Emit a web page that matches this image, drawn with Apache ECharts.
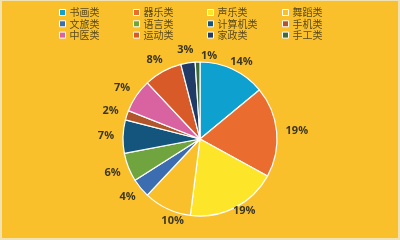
<!DOCTYPE html>
<html><head><meta charset="utf-8">
<script src="https://cdn.jsdelivr.net/npm/echarts@6/dist/echarts.min.js"></script>
<style>
html,body{margin:0;padding:0;background:#f1e2b4;}
#c{position:absolute;left:2px;top:1px;width:396px;height:237px;}
</style></head>
<body><div id="c"></div>
<script>
const categories = ['书画类','器乐类','声乐类','舞蹈类','文旅类','语言类','计算机类','手机类','中医类','运动类','家政类','手工类'];
const values = [14,19,19,10,4,6,7,2,7,8,3,1];
const colors = ['#0ea0cf','#ea6d2f','#fde52a','#f9c02c','#3c6db0','#6fa43f','#13557c','#b2552b','#d962a0','#d95a29','#1f3b66','#3e6b36'];

// small manual label nudges (as in the original chart's label placement)
const labelNudge = {'书画类': [0, 5], '声乐类': [0, -9], '舞蹈类': [14, 0], '手工类': [12, 7]};

const chart = echarts.init(document.getElementById('c'));
const colX = [57, 131, 205, 280];
const legends = colX.map((x, ci) => ({
  orient: 'vertical',
  left: x,
  top: 6,
  padding: 0,
  itemWidth: 6,
  itemHeight: 6,
  itemGap: 0.3,
  icon: 'rect',
  data: [categories[ci], categories[ci+4], categories[ci+8]],
  itemStyle: {borderColor: '#ffffff', borderWidth: 1},
  textStyle: {fontSize: 10, lineHeight: 11, color: '#5a4a20', fontFamily: 'Noto Sans CJK SC', padding: [0,0,0,-1]},
  selectedMode: false
}));

chart.setOption({
  backgroundColor: '#f9c02c',
  color: colors,
  legend: legends,
  series: [{
    type: 'pie',
    center: [198, 138],
    radius: [0, 77],
    startAngle: 90,
    clockwise: true,
    animation: false,
    avoidLabelOverlap: false,
    data: categories.map((n, i) => ({name: n, value: values[i]})),
    itemStyle: {borderColor: '#ffffff', borderWidth: 1.2},
    label: {
      show: true,
      position: 'outside',
      formatter: p => p.value + '%',
      color: '#3d3720',
      fontSize: 11,
      fontWeight: 'bold',
      fontFamily: 'Open Sans',
      distanceToLabelLine: 0
    },
    labelLine: {show: true, length: 9, length2: 0, lineStyle: {opacity: 0}},
    labelLayout: function (p) {
      const pts = p.labelLinePoints;
      if (!pts || pts.length < 2) return {};
      const dx = pts[1][0] - pts[0][0], dy = pts[1][1] - pts[0][1];
      const len = Math.hypot(dx, dy) || 1;
      const ux = dx / len, uy = dy / len;
      const w = p.labelRect.width, h = p.labelRect.height;
      const n = labelNudge[categories[p.dataIndex]] || [0, 0];
      return {
        x: pts[1][0] + ux * w / 2 + n[0],
        y: pts[1][1] + uy * h / 2 * 0.85 + n[1],
        align: 'center',
        verticalAlign: 'middle'
      };
    },
    emphasis: {disabled: true}
  }]
});
</script></body></html>
